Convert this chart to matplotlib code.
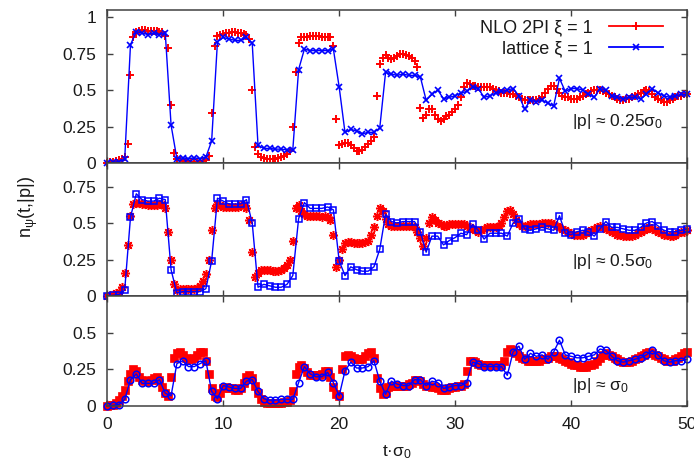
import numpy as np
import matplotlib
matplotlib.use('Agg')
import matplotlib.pyplot as plt
from matplotlib.lines import Line2D

plt.rcParams['font.family'] = ['Liberation Sans', 'DejaVu Sans']
plt.rcParams['mathtext.fontset'] = 'custom'
plt.rcParams['mathtext.rm'] = 'Liberation Sans'
plt.rcParams['mathtext.it'] = 'Liberation Sans'
plt.rcParams['mathtext.bf'] = 'Liberation Sans:bold'

# NLO 2PI curves, one row per unit of t (t, t+0.25, t+0.5, t+0.75)
nlo_p025 = [
    0.00, 0.005, 0.01, 0.015,
    0.02, 0.03, 0.04, 0.13,
    0.60, 0.86, 0.90, 0.905,
    0.91, 0.91, 0.905, 0.905,
    0.905, 0.905, 0.90, 0.90,
    0.87, 0.79, 0.40, 0.07,
    0.03, 0.02, 0.015, 0.01,
    0.01, 0.005, 0.005, 0.01,
    0.01, 0.015, 0.02, 0.05,
    0.34, 0.80, 0.87, 0.88,
    0.885, 0.89, 0.89, 0.895,
    0.895, 0.89, 0.89, 0.885,
    0.88, 0.85, 0.50, 0.11,
    0.06, 0.04, 0.035, 0.03,
    0.025, 0.025, 0.03, 0.035,
    0.04, 0.05, 0.06, 0.08,
    0.25, 0.62, 0.82, 0.86,
    0.86, 0.865, 0.87, 0.87,
    0.87, 0.87, 0.865, 0.86,
    0.86, 0.86, 0.80, 0.30,
    0.12, 0.13, 0.14, 0.14,
    0.12, 0.10, 0.08, 0.08,
    0.09, 0.11, 0.13, 0.15,
    0.18, 0.46, 0.68, 0.72,
    0.74, 0.72, 0.71, 0.72,
    0.73, 0.75, 0.75, 0.74,
    0.73, 0.72, 0.70, 0.66,
    0.38, 0.31, 0.33, 0.37,
    0.37, 0.33, 0.30, 0.29,
    0.30, 0.32, 0.33, 0.35,
    0.37, 0.40, 0.45, 0.52,
    0.55, 0.54, 0.53, 0.53,
    0.52, 0.52, 0.52, 0.52,
    0.52, 0.51, 0.50, 0.49,
    0.48, 0.48, 0.48, 0.47,
    0.47, 0.46, 0.45, 0.44,
    0.43, 0.43, 0.43, 0.43,
    0.43, 0.44, 0.45, 0.48,
    0.51, 0.53, 0.53, 0.51,
    0.48, 0.46, 0.45, 0.45,
    0.44, 0.44, 0.44, 0.45,
    0.46, 0.47, 0.48, 0.49,
    0.50, 0.50, 0.50, 0.49,
    0.48, 0.47, 0.46, 0.45,
    0.44, 0.43, 0.43, 0.44,
    0.44, 0.45, 0.46, 0.47,
    0.48, 0.49, 0.50, 0.49,
    0.47, 0.45, 0.44, 0.43,
    0.42, 0.42, 0.43, 0.44,
    0.45, 0.46, 0.46, 0.47,
    0.47,
]

nlo_p05 = [
    0.00, 0.005, 0.01, 0.02,
    0.03, 0.06, 0.16, 0.35,
    0.55, 0.63, 0.64, 0.64,
    0.63, 0.63, 0.62, 0.62,
    0.62, 0.62, 0.63, 0.63,
    0.60, 0.44, 0.25, 0.08,
    0.04, 0.05, 0.05, 0.045,
    0.045, 0.045, 0.05, 0.055,
    0.07, 0.10, 0.15, 0.25,
    0.45, 0.60, 0.63, 0.62,
    0.61, 0.61, 0.61, 0.61,
    0.61, 0.61, 0.62, 0.62,
    0.60, 0.52, 0.30, 0.13,
    0.16, 0.18, 0.18, 0.18,
    0.18, 0.17, 0.17, 0.17,
    0.18, 0.19, 0.21, 0.25,
    0.38, 0.60, 0.62, 0.58,
    0.56, 0.55, 0.55, 0.55,
    0.55, 0.55, 0.54, 0.55,
    0.54, 0.52, 0.42, 0.20,
    0.25, 0.32, 0.36, 0.37,
    0.37, 0.36, 0.36, 0.36,
    0.36, 0.37, 0.38, 0.42,
    0.47, 0.55, 0.60, 0.58,
    0.53, 0.49, 0.48, 0.48,
    0.48, 0.48, 0.48, 0.48,
    0.48, 0.48, 0.47, 0.44,
    0.40, 0.34, 0.40, 0.50,
    0.54, 0.52, 0.50, 0.49,
    0.48, 0.48, 0.49, 0.49,
    0.49, 0.49, 0.49, 0.49,
    0.48, 0.47, 0.46, 0.45,
    0.44, 0.45, 0.46, 0.47,
    0.47, 0.47, 0.47, 0.48,
    0.50, 0.54, 0.58, 0.59,
    0.56, 0.52, 0.49, 0.48,
    0.48, 0.48, 0.49, 0.49,
    0.49, 0.49, 0.50, 0.50,
    0.50, 0.50, 0.49, 0.48,
    0.47, 0.46, 0.45, 0.44,
    0.43, 0.42, 0.42, 0.42,
    0.42, 0.43, 0.44, 0.45,
    0.46, 0.47, 0.48, 0.47,
    0.46, 0.45, 0.44, 0.43,
    0.42, 0.42, 0.41, 0.41,
    0.41, 0.41, 0.42, 0.43,
    0.44, 0.45, 0.46, 0.47,
    0.46, 0.45, 0.44, 0.43,
    0.42, 0.42, 0.41, 0.41,
    0.42, 0.43, 0.44, 0.44,
    0.45,
]

nlo_p1 = [
    0.00, 0.005, 0.01, 0.02,
    0.04, 0.07, 0.11, 0.17,
    0.22, 0.25, 0.24, 0.20,
    0.18, 0.17, 0.17, 0.18,
    0.19, 0.20, 0.18, 0.13,
    0.09, 0.07, 0.20, 0.33,
    0.36, 0.37, 0.35, 0.33,
    0.32, 0.32, 0.33, 0.35,
    0.37, 0.37, 0.31, 0.22,
    0.12, 0.07, 0.06, 0.09,
    0.12, 0.13, 0.12, 0.12,
    0.11, 0.11, 0.12, 0.16,
    0.20, 0.21, 0.19, 0.14,
    0.09, 0.05, 0.03, 0.02,
    0.02, 0.02, 0.02, 0.02,
    0.02, 0.03, 0.03, 0.04,
    0.10, 0.22, 0.27, 0.28,
    0.26, 0.23, 0.21, 0.21,
    0.21, 0.21, 0.22, 0.24,
    0.24, 0.20, 0.13, 0.08,
    0.07, 0.25, 0.34, 0.35,
    0.34, 0.33, 0.32, 0.32,
    0.32, 0.34, 0.36, 0.37,
    0.33, 0.19, 0.12, 0.08,
    0.09, 0.13, 0.14, 0.14,
    0.14, 0.14, 0.14, 0.14,
    0.15, 0.16, 0.18, 0.18,
    0.17, 0.15, 0.14, 0.14,
    0.13, 0.13, 0.12, 0.11,
    0.11, 0.11, 0.12, 0.13,
    0.13, 0.14, 0.14, 0.15,
    0.24, 0.31, 0.31, 0.30,
    0.29, 0.28, 0.28, 0.28,
    0.28, 0.28, 0.28, 0.28,
    0.28, 0.31, 0.37, 0.39,
    0.38, 0.36, 0.34, 0.33,
    0.32, 0.31, 0.31, 0.31,
    0.31, 0.31, 0.32, 0.32,
    0.33, 0.34, 0.34, 0.34,
    0.33, 0.32, 0.31, 0.30,
    0.29, 0.28, 0.28, 0.27,
    0.27, 0.27, 0.28, 0.28,
    0.29, 0.31, 0.33, 0.35,
    0.36, 0.35, 0.34, 0.33,
    0.32, 0.31, 0.30, 0.30,
    0.30, 0.31, 0.32, 0.33,
    0.34, 0.35, 0.36, 0.37,
    0.36, 0.35, 0.34, 0.33,
    0.32, 0.31, 0.31, 0.31,
    0.32, 0.33, 0.34, 0.36,
    0.37,
]

# lattice curves, t = 0, 0.5, ..., 50
lat_p025 = [
    0.0, 0.005, 0.01, 0.025, 0.81, 0.90, 0.89, 0.88, 0.89, 0.88,
    0.89, 0.26, 0.03, 0.035, 0.03, 0.035, 0.03, 0.04, 0.15, 0.83,
    0.86, 0.85, 0.84, 0.84, 0.86, 0.82, 0.12, 0.10, 0.10, 0.095,
    0.095, 0.09, 0.09, 0.64, 0.78, 0.77, 0.77, 0.77, 0.77, 0.78,
    0.52, 0.21, 0.23, 0.22, 0.20, 0.21, 0.21, 0.24, 0.62, 0.61,
    0.60, 0.61, 0.60, 0.60, 0.59, 0.43, 0.47, 0.50, 0.44, 0.45,
    0.46, 0.48, 0.49, 0.52, 0.51, 0.45, 0.46, 0.48, 0.49, 0.50,
    0.51, 0.46, 0.37, 0.43, 0.42, 0.43, 0.41, 0.39, 0.58, 0.49,
    0.51, 0.51, 0.50, 0.47, 0.45, 0.51, 0.50, 0.46, 0.45, 0.44,
    0.45, 0.45, 0.44, 0.47, 0.51, 0.48, 0.46, 0.45, 0.46, 0.47,
    0.47,
]

lat_p05 = [
    0.0, 0.005, 0.01, 0.04, 0.54, 0.70, 0.66, 0.65, 0.65, 0.67,
    0.66, 0.18, 0.02, 0.03, 0.03, 0.03, 0.03, 0.05, 0.24, 0.67,
    0.65, 0.63, 0.63, 0.63, 0.66, 0.50, 0.06, 0.08, 0.07, 0.06,
    0.06, 0.08, 0.14, 0.53, 0.64, 0.60, 0.60, 0.60, 0.61, 0.59,
    0.24, 0.14, 0.20, 0.18, 0.17, 0.17, 0.20, 0.32, 0.56, 0.51,
    0.50, 0.51, 0.51, 0.51, 0.44, 0.30, 0.41, 0.41, 0.35, 0.38,
    0.40, 0.43, 0.42, 0.49, 0.45, 0.39, 0.43, 0.43, 0.43, 0.41,
    0.50, 0.53, 0.46, 0.45, 0.46, 0.47, 0.46, 0.45, 0.55, 0.43,
    0.42, 0.44, 0.45, 0.44, 0.41, 0.46, 0.51, 0.47, 0.47, 0.46,
    0.45, 0.45, 0.47, 0.50, 0.51, 0.48, 0.45, 0.44, 0.44, 0.45,
    0.46,
]

lat_p1 = [
    0.0, 0.005, 0.01, 0.045, 0.18, 0.22, 0.155, 0.155, 0.155, 0.18,
    0.087, 0.07, 0.29, 0.31, 0.27, 0.27, 0.29, 0.31, 0.10, 0.05,
    0.14, 0.13, 0.12, 0.12, 0.17, 0.18, 0.10, 0.05, 0.04, 0.04,
    0.045, 0.045, 0.045, 0.16, 0.27, 0.22, 0.20, 0.20, 0.23, 0.16,
    0.07, 0.24, 0.30, 0.26, 0.26, 0.27, 0.31, 0.17, 0.08, 0.17,
    0.15, 0.14, 0.14, 0.18, 0.18, 0.14, 0.17, 0.16, 0.12, 0.13,
    0.14, 0.14, 0.16, 0.30, 0.29, 0.27, 0.27, 0.27, 0.27, 0.21,
    0.37, 0.41, 0.32, 0.36, 0.34, 0.35, 0.32, 0.37, 0.45, 0.35,
    0.34, 0.33, 0.33, 0.34, 0.35, 0.39, 0.38, 0.34, 0.31, 0.30,
    0.31, 0.32, 0.33, 0.35, 0.38, 0.35, 0.31, 0.30, 0.31, 0.31,
    0.32,
]

y_ticks_top = [0, 0.25, 0.5, 0.75, 1]
y_ticks_mid = [0, 0.25, 0.5, 0.75]
y_ticks_bot = [0, 0.25, 0.5]
x_ticks = [0, 10, 20, 30, 40, 50]

red = '#ff0000'
blue = '#0000ff'
frame = '#404040'
ink = '#1a1a1a'
fs = 12.5

fig = plt.figure(figsize=(6.94, 4.66), dpi=100)

left = 107.3 / 694
width = (687 - 107.3) / 694
px = 1 / 466
ax_top = fig.add_axes([left, 1 - 163 * px, width, 153 * px])
ax_mid = fig.add_axes([left, 1 - 296 * px, width, 133 * px])
ax_bot = fig.add_axes([left, 1 - 406 * px, width, 110 * px])

# red style, blue marker, y top, y ticks, label y, label
panels = [
    (ax_top, nlo_p025, lat_p025, dict(marker='+', ms=5.5, mew=1.4), 'x', 1.048, y_ticks_top,
     0.253, r'|p| ≈ 0.25σ$_0$'),
    (ax_mid, nlo_p05, lat_p05, dict(marker=(8, 2, 0), ms=6.5, mew=1.1), 's', 0.911, y_ticks_mid,
     0.205, r'|p| ≈ 0.5σ$_0$'),
    (ax_bot, nlo_p1, lat_p1, dict(marker='s', ms=6.2, mew=0.5), 'o', 0.753, y_ticks_bot,
     0.11, r'|p| ≈ σ$_0$'),
]

for ax, nlo, lat, rstyle, bm, ytop, yt, ty, label in panels:
    t_nlo = np.linspace(0, 50, len(nlo))
    t_lat = np.linspace(0, 50, len(lat))
    ax.plot(t_nlo, nlo, ls='none', color=red, mec=red, clip_on=False, **rstyle)
    if bm == 'x':
        ax.plot(t_lat, lat, color=blue, lw=1.0, marker='x', ms=5, mew=1.2, clip_on=False)
    else:
        ax.plot(t_lat, lat, color=blue, lw=1.0, marker=bm, ms=4.8, mew=1.1, mfc='none',
                mec=blue, clip_on=False)

    ax.set_xlim(0, 50)
    ax.set_ylim(0, ytop)
    ax.set_yticks(yt)
    ax.set_yticklabels(['%g' % v for v in yt])
    ax.set_xticks(x_ticks)
    ax.tick_params(direction='in', length=4.5, width=1.0, color=frame, top=True, right=True,
                   labelsize=fs, pad=8, labelcolor=ink)
    for s in ax.spines.values():
        s.set_color(frame)
        s.set_linewidth(1.1)
    ax.text(40.05, ty, label, fontsize=fs, ha='left', va='baseline', color=ink)
    if ax is not ax_bot:
        ax.tick_params(labelbottom=False)
    else:
        ax.set_xticklabels([str(v) for v in x_ticks])

handles = [
    Line2D([], [], color=red, lw=1.3, marker='+', ms=6, mew=1.4),
    Line2D([], [], color=blue, lw=1.3, marker='x', ms=5, mew=1.2),
]
ax_top.legend(handles, ['NLO 2PI ξ = 1', 'lattice ξ = 1'], loc='upper right',
              bbox_to_anchor=(0.9586, 0.94), frameon=False, markerfirst=False,
              fontsize=13, handlelength=3.0, handletextpad=0.9, labelspacing=0.22,
              borderaxespad=0, borderpad=0, numpoints=1, labelcolor=ink)

fig.text(28 / 694, 1 - 207 / 466, r'n$_ψ$(t,|p|)', rotation=90, ha='center', va='center',
         fontsize=13, color=ink)
fig.text(397 / 694, 1 - 452 / 466, r't·σ$_0$', ha='center', va='center',
         fontsize=fs, color=ink)

fig.savefig('out.png', dpi=100)
